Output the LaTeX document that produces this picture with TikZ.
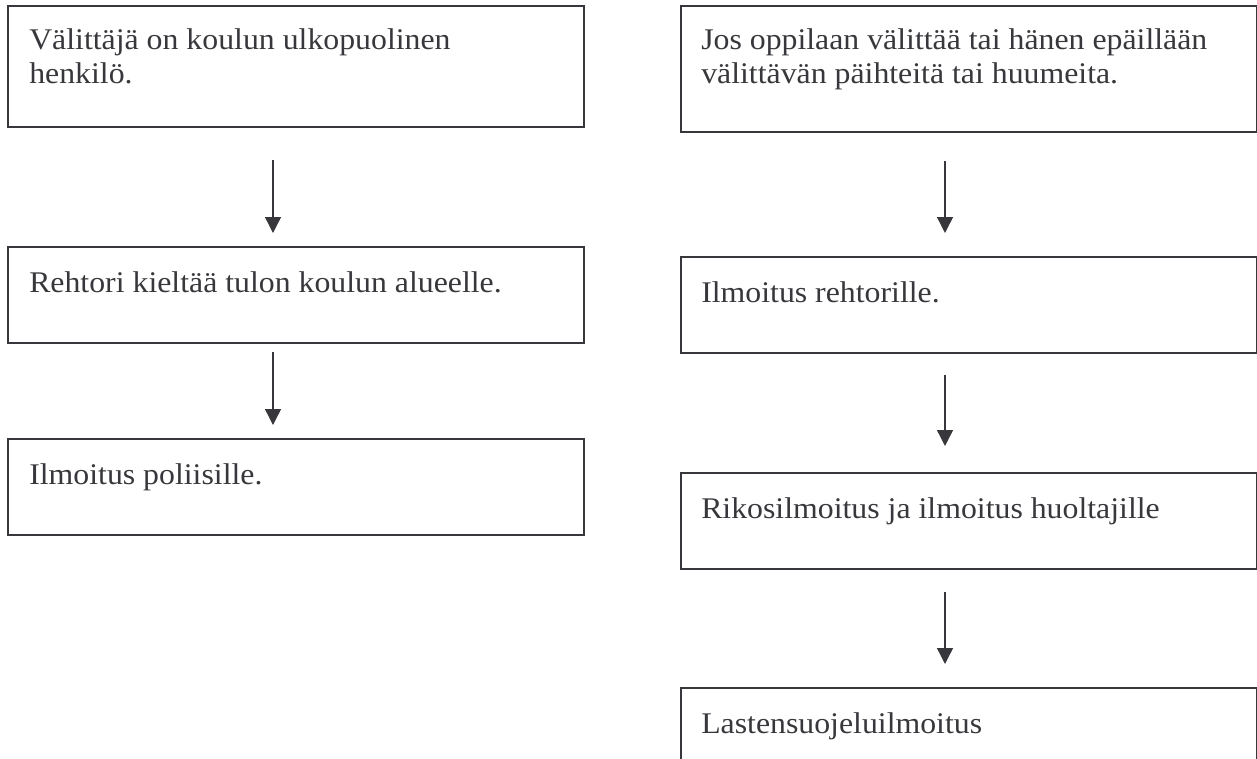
\documentclass[tikz,border=0pt]{standalone}
\usepackage{fontspec}
\setmainfont{Liberation Serif}[FakeStretch=1.06]
\usetikzlibrary{arrows.meta, calc, positioning}
\newlength\pxu
\setlength\pxu{0.75pt}
\definecolor{ink}{RGB}{56,56,60}

\begin{document}
\begin{tikzpicture}[x=\pxu, y=-\pxu,
  box/.style={draw=ink, line width=1.35pt, anchor=north west, inner sep=0pt, outer sep=0pt, minimum width=432pt},
  txt/.style={anchor=base west, inner sep=0pt, text=ink, font=\fontsize{22.5}{25.5}\selectfont, align=left},
  arr/.style={draw=ink, line width=1pt, -{Triangle[width=12pt,length=12pt]}}]
\useasboundingbox (0,0) rectangle (1257,758);
\clip (0,0) rectangle (1257,758);

% left column
\node[box, minimum height=90.75pt] (L1) at (8,6) {};
\node[box, minimum height=72pt] (L2) at (8,247) {};
\node[box, minimum height=72pt] (L3) at (8,439) {};
% two-line texts: base anchor sits on the last line
\node[txt] (tL1) at ($(L1.north west)+(21,77)$) {Välittäjä on koulun ulkopuolinen\\henkilö.};
\node[txt] (tL2) at ($(L2.north west)+(21,45)$) {Rehtori kieltää tulon koulun alueelle.};
\node[txt] (tL3) at ($(L3.north west)+(21,45)$) {Ilmoitus poliisille.};
\draw[arr] ($(L1.south west)+(265,33)$) -- ($(L2.north west)+(265,-14)$);
\draw[arr] ($(L2.south west)+(265,9)$) -- ($(L3.north west)+(265,-14)$);

% right column
\node[box, minimum height=94.5pt] (R1) at (681,6) {};
\node[box, minimum height=72pt] (R2) at (681,257) {};
\node[box, minimum height=72pt] (R3) at (681,473) {};
\node[box, minimum height=82.5pt] (R4) at (681,688) {};
\node[txt] (tR1) at ($(R1.north west)+(20,77)$) {Jos oppilaan välittää tai hänen epäillään\\välittävän päihteitä tai huumeita.};
\node[txt] (tR2) at ($(R2.north west)+(20,45)$) {Ilmoitus rehtorille.};
\node[txt] (tR3) at ($(R3.north west)+(20,45)$) {Rikosilmoitus ja ilmoitus huoltajille};
\node[txt] (tR4) at ($(R4.north west)+(20,45)$) {Lastensuojeluilmoitus};
\draw[arr] ($(R1.south west)+(264,29)$) -- ($(R2.north west)+(264,-24)$);
\draw[arr] ($(R2.south west)+(264,22)$) -- ($(R3.north west)+(264,-27)$);
\draw[arr] ($(R3.south west)+(264,23)$) -- ($(R4.north west)+(264,-24)$);

\end{tikzpicture}
\end{document}
